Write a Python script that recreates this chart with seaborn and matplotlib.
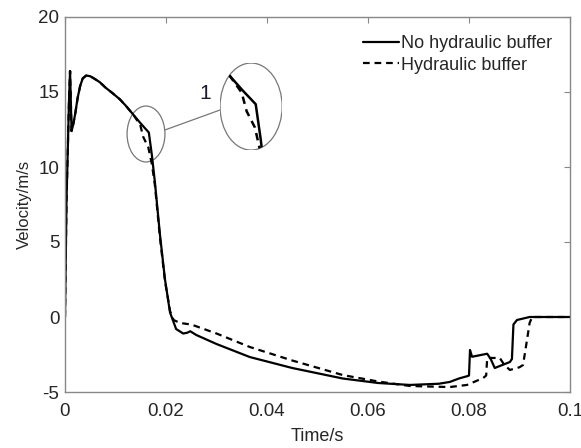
import numpy as np
import pandas as pd
import seaborn as sns
import matplotlib.pyplot as plt
from matplotlib.patches import Ellipse

# data
t_solid = [0, 0.0003, 0.0008, 0.0010, 0.0013, 0.0016, 0.0020, 0.0025, 0.0030,
           0.0035, 0.0042, 0.0050, 0.0060, 0.0069, 0.0080, 0.0095, 0.0109,
           0.0120, 0.0135, 0.0150, 0.0166, 0.0172, 0.0178, 0.0188, 0.0198,
           0.0208, 0.0220, 0.0234, 0.0242, 0.0248, 0.0260, 0.0300, 0.0366,
           0.0450, 0.0550, 0.0620, 0.0683, 0.0740, 0.0762, 0.0780, 0.0796,
           0.0800, 0.0802, 0.0806, 0.0836, 0.0843, 0.0851, 0.0881, 0.0885,
           0.0888, 0.0895, 0.0920, 0.1000]
v_solid = [0, 7.8, 14.5, 16.4, 12.4, 12.8, 13.5, 14.6, 15.4,
           15.9, 16.1, 16.05, 15.85, 15.65, 15.3, 14.9, 14.5,
           14.1, 13.5, 12.9, 12.3, 10.8, 9.0, 5.5, 2.5,
           0.3, -0.8, -1.1, -1.05, -0.95, -1.2, -1.8, -2.67,
           -3.4, -4.1, -4.4, -4.53, -4.45, -4.33, -4.1, -3.95,
           -3.9, -2.2, -2.65, -2.45, -2.8, -3.4, -3.0, -2.8,
           -0.5, -0.2, 0, 0]

t_dash = [0, 0.0003, 0.0008, 0.0010, 0.0013, 0.0016, 0.0020, 0.0025, 0.0030,
          0.0035, 0.0042, 0.0050, 0.0060, 0.0069, 0.0080, 0.0095, 0.0109,
          0.0120, 0.0135, 0.0149, 0.0155, 0.0165, 0.0172, 0.0178, 0.0188,
          0.0198, 0.0208, 0.0215, 0.0228, 0.0250, 0.0300, 0.0366, 0.0450,
          0.0550, 0.0620, 0.0683, 0.0762, 0.0796, 0.0828, 0.0834, 0.0836,
          0.0861, 0.0870, 0.0881, 0.0900, 0.0907, 0.0915, 0.0920, 0.0925,
          0.1000]
v_dash = [0, 7.8, 14.5, 16.4, 12.4, 12.8, 13.5, 14.6, 15.4,
          15.9, 16.1, 16.05, 15.85, 15.65, 15.3, 14.9, 14.5,
          14.1, 13.5, 12.8, 12.0, 11.3, 10.2, 8.8, 5.3,
          2.4, 0.4, -0.2, -0.4, -0.5, -1.1, -2.0, -2.9,
          -3.87, -4.3, -4.6, -4.67, -4.53, -4.07, -3.9, -2.73,
          -2.73, -3.2, -3.53, -3.35, -3.2, -1.5, -0.4, 0,
          0]

sns.set_style("white")
plt.rcParams['font.family'] = ['Liberation Sans', 'DejaVu Sans']
plt.rcParams['axes.unicode_minus'] = False

fig = plt.figure(figsize=(5.81, 4.48), dpi=100)
ax = fig.add_axes([65/581, 56/448, 505/581, 375/448])

df_s = pd.DataFrame({'t': t_solid, 'v': v_solid})
df_d = pd.DataFrame({'t': t_dash, 'v': v_dash})

sns.lineplot(data=df_s, x='t', y='v', ax=ax, color='black', lw=1.6,
             sort=False, label='No hydraulic buffer')
sns.lineplot(data=df_d, x='t', y='v', ax=ax, color='black', lw=1.6,
             sort=False, dashes=False, label='Hydraulic buffer')
ax.lines[1].set_dashes((3, 2.2))

ax.set_xlim(0, 0.1)
ax.set_ylim(-5, 20)
ax.set_xticks([0, 0.02, 0.04, 0.06, 0.08, 0.1])
ax.set_xticklabels(['0', '0.02', '0.04', '0.06', '0.08', '0.1'])
ax.set_yticks([-5, 0, 5, 10, 15, 20])
ax.tick_params(direction='in', length=4, color='#888888', labelsize=13.5,
               top=True, right=True, labelcolor='#262626', pad=4)
ax.tick_params(axis='x', pad=8)
for sp in ax.spines.values():
    sp.set_color('#888888')
    sp.set_linewidth(1.0)
ax.set_xlabel('Time/s', fontsize=13, color='#262626', labelpad=6)
ax.set_ylabel('Velocity/m/s', fontsize=12, color='#262626', labelpad=5)

leg = ax.legend(loc='upper right', frameon=False, fontsize=13,
                handlelength=2.0, handletextpad=0.1, borderaxespad=0.6,
                labelspacing=0.25)

# small circle, connector and label
ax.add_patch(Ellipse((0.01604, 12.2), 0.0075, 3.73, fill=False,
                     ec='#777777', lw=0.9))
ax.plot([0.0198, 0.0307], [12.47, 13.8], color='#777777', lw=0.9)
ax.text(0.0278, 14.9, '1', fontsize=15, color='#1a1a2a', ha='center', va='center')

# magnified view
ins = ax.inset_axes([0.0307, 11.13, 0.0123, 5.8], transform=ax.transData)
ins.set_xlim(0.01228, 0.0198)
ins.set_ylim(10.33, 14.07)
ins.axis('off')
clip = Ellipse((0.5, 0.5), 1, 1, transform=ins.transAxes, fill=False,
               ec='#777777', lw=0.9)
ins.add_patch(clip)
l1, = ins.plot(t_solid, v_solid, color='black', lw=1.8)
l2, = ins.plot(t_dash, v_dash, color='black', lw=1.8, dashes=(3, 2.2))
l1.set_clip_path(clip)
l2.set_clip_path(clip)

fig.savefig('out.png', dpi=100)
